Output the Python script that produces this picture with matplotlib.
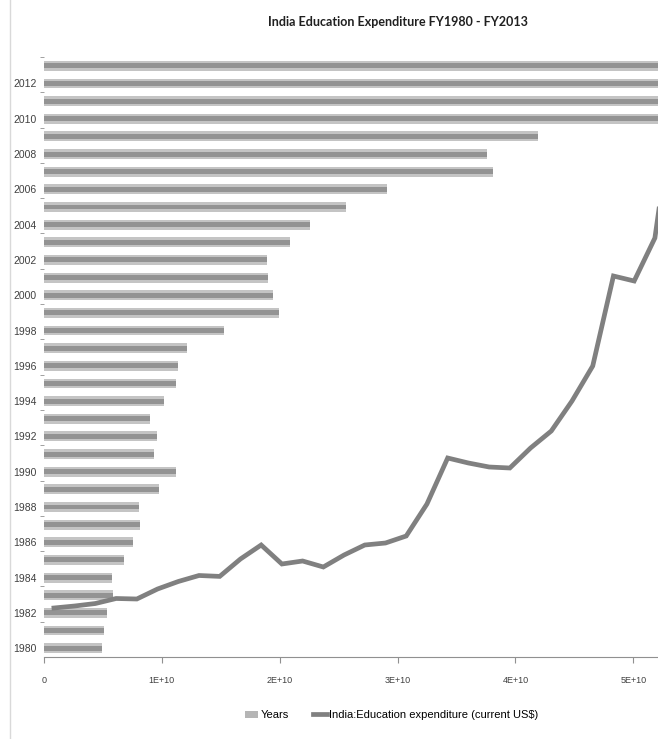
import matplotlib
matplotlib.use("Agg")
import matplotlib.pyplot as plt
from matplotlib.lines import Line2D
from matplotlib.patches import Patch

plt.rcParams["font.family"] = ["Liberation Sans", "DejaVu Sans"]

years = list(range(1980, 2014))
# education expenditure, current US$
expenditure = [
    0.49e10, 0.51e10, 0.535e10, 0.585e10, 0.58e10, 0.68e10, 0.755e10, 0.815e10,
    0.806e10, 0.98e10, 1.12e10, 0.93e10, 0.96e10, 0.90e10, 1.02e10, 1.12e10,
    1.14e10, 1.21e10, 1.53e10, 1.99e10, 1.94e10, 1.90e10, 1.89e10, 2.09e10,
    2.26e10, 2.56e10, 2.91e10, 3.81e10, 3.76e10, 4.19e10, 5.65e10, 6.3e10,
    6.4e10, 6.2e10,
]
x_ticks = [0, 1e10, 2e10, 3e10, 4e10, 5e10]
x_tick_labels = ["0", "1E+10", "2E+10", "3E+10", "4E+10", "5E+10"]
year_labels = [str(y) if y % 2 == 0 else "" for y in years]

fig = plt.figure(figsize=(6.58, 7.39), dpi=100)
pos = [44 / 658, 82 / 739, 614 / 658, 600 / 739]
ax = fig.add_axes(pos)

# bars with a lighter rim
ax.barh(years, expenditure, height=0.56, color="#c4c4c4", zorder=2)
ax.barh(years, expenditure, height=0.28, color="#939393", zorder=3)

ax.set_xlim(0, 5.21e10)
ax.set_ylim(1979.5, 2013.5)
ax.set_xticks(x_ticks)
ax.set_xticklabels(x_tick_labels, fontsize=6.5, color="#404040")
ax.set_yticks(years)
ax.set_yticklabels(year_labels, fontsize=7.5, color="#404040")
ax.tick_params(axis="y", length=0, pad=5)
ax.set_yticks([y + 0.5 for y in years[1::2]], minor=True)
ax.tick_params(axis="y", which="minor", length=3, color="#909090")
ax.tick_params(axis="x", length=4, color="#909090", pad=10)
for side in ["top", "right", "left"]:
    ax.spines[side].set_visible(False)
ax.spines["bottom"].set_color("#909090")

# same series as a line on hidden secondary axes
ax2 = fig.add_axes(pos, frameon=False)
ax2.plot(years, expenditure, color="#808080", linewidth=3.4, solid_joinstyle="miter")
ax2.set_xlim(1979.52, 2009.15)
ax2.set_ylim(0, 6e10)
ax2.axis("off")

fig.text(0.605, 0.97, "India Education Expenditure FY1980 - FY2013",
         ha="center", va="center", fontsize=9, fontweight="bold", color="#202020",
         family=["Lato", "DejaVu Sans"])

handles = [
    Patch(facecolor="#b5b5b5", edgecolor="none"),
    Line2D([0], [0], color="#808080", linewidth=3.4),
]
fig.legend(handles, ["Years", "India:Education expenditure (current US$)"],
           loc="center", bbox_to_anchor=(0.595, 0.032), ncol=2, frameon=False,
           fontsize=8, handlelength=1.2, handletextpad=0.2, columnspacing=2.2)

fig.add_artist(Line2D([10 / 658, 10 / 658], [0, 1], color="#d9d9d9", linewidth=1))

fig.savefig("out.png", dpi=100)
